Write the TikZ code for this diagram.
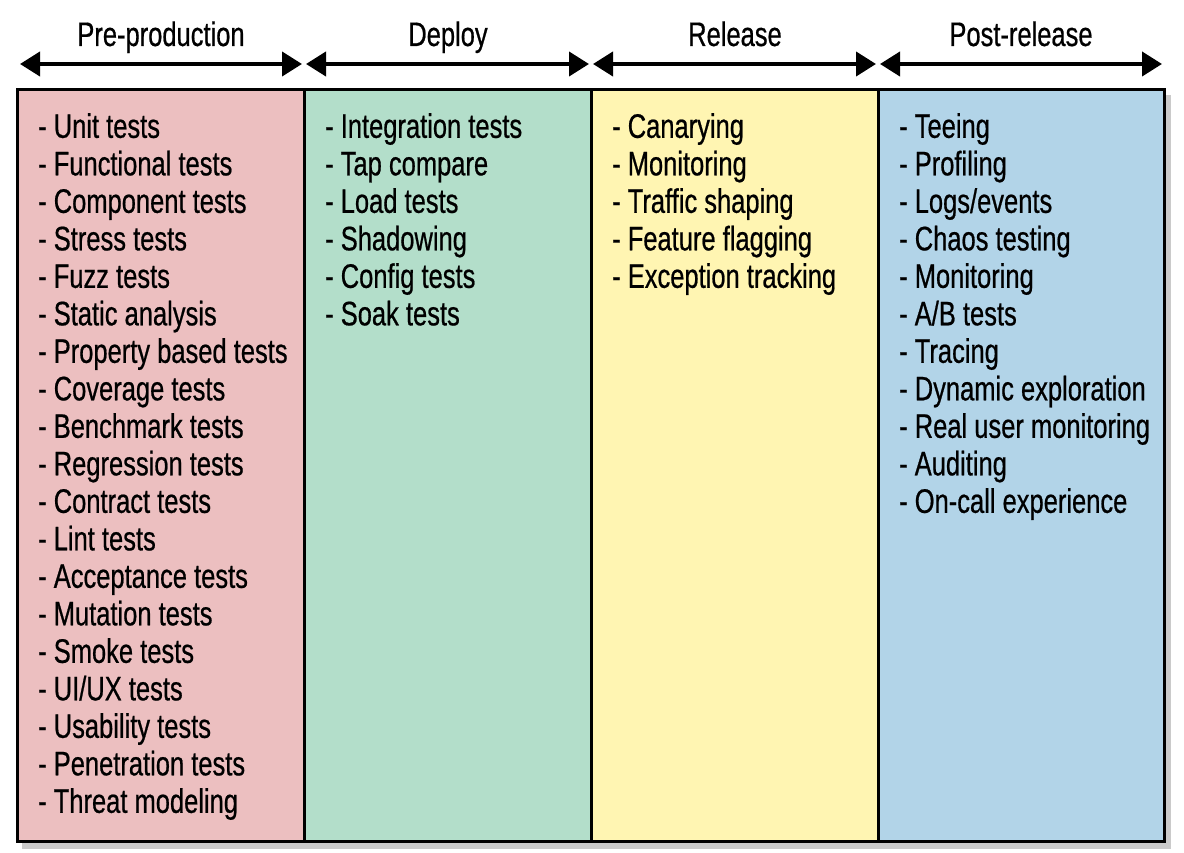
\documentclass[tikz,border=0pt]{standalone}
\usepackage{fontspec}
\setmainfont[FakeStretch=0.75, FakeBold=0.6]{Liberation Sans}
\usepackage{tikz}
\usetikzlibrary{arrows.meta}

\definecolor{prePink}{RGB}{236,191,192}
\definecolor{depGreen}{RGB}{179,222,202}
\definecolor{relYellow}{RGB}{255,245,178}
\definecolor{postBlue}{RGB}{178,212,232}

\tikzset{
  phase/.style={draw=black, line width=3pt},
  span/.style={line width=4pt, {Triangle[length=20pt,width=24pt]}-{Triangle[length=20pt,width=24pt]}},
  head/.style={font=\fontsize{34}{34}\selectfont, anchor=base},
  list/.style={font=\fontsize{34}{37.5}\selectfont, align=left, anchor=north west, inner sep=0pt}
}

\begin{document}
\begin{tikzpicture}[x=1pt, y=-1pt]
\useasboundingbox (0,0) rectangle (1184,853);

% shadow
\fill [black!35, opacity=0.6] (22,95) rectangle (1171,849);

\fill [prePink]   (17,90) rectangle (304,841);
\fill [depGreen]  (304,90) rectangle (591,841);
\fill [relYellow] (591,90) rectangle (878,841);
\fill [postBlue]  (878,90) rectangle (1164,841);

\draw [phase] (17,90) rectangle (1164,841);
\draw [phase] (304,90) -- (304,841);
\draw [phase] (591,90) -- (591,841);
\draw [phase] (878,90) -- (878,841);

% phase arrows
\coordinate (a0) at (20,64);
\coordinate (a1) at (302,64);
\coordinate (b0) at (306,64);
\coordinate (b1) at (589,64);
\coordinate (c0) at (593,64);
\coordinate (c1) at (876,64);
\coordinate (d0) at (880,64);
\coordinate (d1) at (1162,64);
\draw [span] (a0) -- (a1);
\draw [span] (b0) -- (b1);
\draw [span] (c0) -- (c1);
\draw [span] (d0) -- (d1);

\node [head] (preHead)  at (161,46) {Pre-production};
\node [head] (depHead)  at (448,46) {Deploy};
\node [head] (relHead)  at (735,46) {Release};
\node [head] (postHead) at (1021,46) {Post-release};

\node [list] (preList) at (38,113) {- Unit tests\\- Functional tests\\- Component tests\\- Stress tests\\- Fuzz tests\\- Static analysis\\- Property based tests\\- Coverage tests\\- Benchmark tests\\- Regression tests\\- Contract tests\\- Lint tests\\- Acceptance tests\\- Mutation tests\\- Smoke tests\\- UI/UX tests\\- Usability tests\\- Penetration tests\\- Threat modeling};
\node [list] (depList) at (325,113) {- Integration tests\\- Tap compare\\- Load tests\\- Shadowing\\- Config tests\\- Soak tests};
\node [list] (relList) at (612,113) {- Canarying\\- Monitoring\\- Traffic shaping\\- Feature flagging\\- Exception tracking};
\node [list] (postList) at (899,113) {- Teeing\\- Profiling\\- Logs/events\\- Chaos testing\\- Monitoring\\- A/B tests\\- Tracing\\- Dynamic exploration\\- Real user monitoring\\- Auditing\\- On-call experience};
\end{tikzpicture}
\end{document}
